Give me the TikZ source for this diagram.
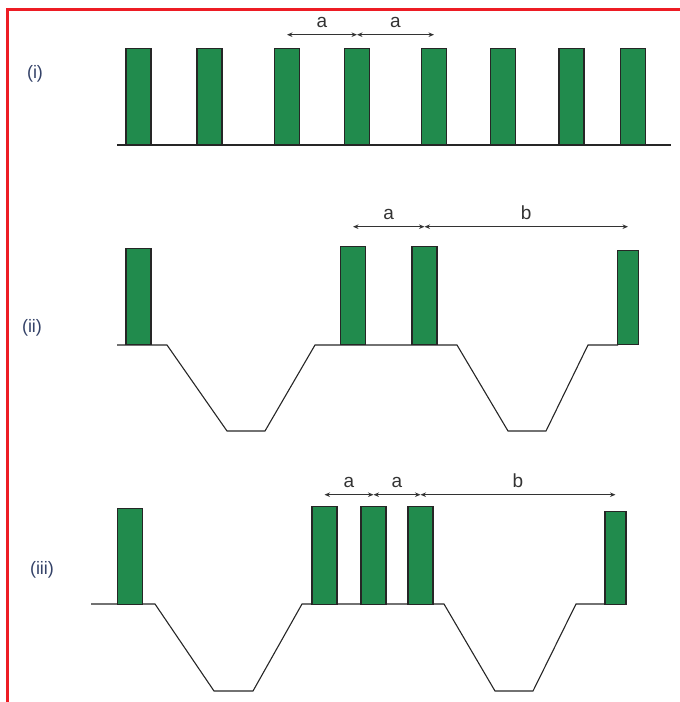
\documentclass[tikz,border=0pt]{standalone}
\usepackage{fontspec}
\setmainfont{Liberation Sans}
\usetikzlibrary{positioning,arrows.meta}
\definecolor{barfill}{RGB}{33,139,77}
\definecolor{frame}{RGB}{237,28,36}
\definecolor{rowlbl}{RGB}{52,66,104}
\tikzset{
    bar/.style={draw=black!85, line width=1.3pt, fill=barfill, anchor=south, inner sep=0pt, minimum width=25pt},
    ground/.style={draw=black!85, line width=1.1pt},
    span/.style={draw=black!80, line width=0.9pt, {Stealth[length=5.5pt,width=4.5pt]}-{Stealth[length=5.5pt,width=4.5pt]}},
    spanlbl/.style={text=black!80, font=\fontsize{19}{21}\selectfont},
    rowname/.style={text=rowlbl, font=\fontsize{18}{20}\selectfont}
}

\begin{document}
\begin{tikzpicture}[x=1pt, y=-1pt]
            \useasboundingbox (0,0) rectangle (680,702);
            \draw[frame, line width=3pt] (7,702) -- (7,9) -- (680,9);

            \node[rowname] (ri) at (35,74) {(i)};
            \draw[ground] (117,145) -- (671,145);
            \foreach \n/\x in {1/138.5, 2/209.5, 3/287, 4/357, 5/434, 6/503, 7/571.5, 8/633}
                \node[bar, minimum height=96pt] (i\n) at (\x,145) {};
            \path (i3.north) ++(0,-13) coordinate (ti3);
            \path (i4.north) ++(0,-13) coordinate (ti4);
            \path (i5.north) ++(0,-13) coordinate (ti5);
            \draw[span] (ti3) -- node[spanlbl, above=3pt] (ia1) {a} (ti4);
            \draw[span] (ti4) -- node[spanlbl, above=3pt] (ia2) {a} (ti5);

            \node[rowname] (rii) at (32,328) {(ii)};
            \draw[ground] (117,345) -- (167,345) -- (227,431) -- (265,431) -- (315,345)
                -- (457,345) -- (508,431) -- (546,431) -- (588,345) -- (618,345);
            \node[bar, minimum height=96pt] (ii1) at (138.5,345) {};
            \node[bar, minimum height=98pt] (ii2) at (353,345) {};
            \node[bar, minimum height=98pt] (ii3) at (424.5,345) {};
            \node[bar, minimum height=94pt, minimum width=21pt] (ii4) at (628,345) {};
            \path (ii2.north) ++(0,-19) coordinate (tii2);
            \path (ii3.north) ++(0,-19) coordinate (tii3);
            \path (ii4.center |- tii3) coordinate (tii4);
            \draw[span] (tii2) -- node[spanlbl, above=3pt] (iia) {a} (tii3);
            \draw[span] (tii3) -- node[spanlbl, above=3pt] (iib) {b} (tii4);

            \node[rowname] (riii) at (42,570) {(iii)};
            \draw[ground] (91,604) -- (155,604) -- (214,691) -- (253,691) -- (302,604)
                -- (444,604) -- (495,691) -- (533,691) -- (576,604) -- (605,604);
            \node[bar, minimum height=96pt] (iii1) at (130,605) {};
            \node[bar, minimum height=98pt] (iii2) at (324.5,605) {};
            \node[bar, minimum height=98pt] (iii3) at (373.5,605) {};
            \node[bar, minimum height=98pt] (iii4) at (420.5,605) {};
            \node[bar, minimum height=93pt, minimum width=21pt] (iii5) at (615.5,605) {};
            \path (iii2.north) ++(0,-11) coordinate (tiii2);
            \path (iii3.north) ++(0,-11) coordinate (tiii3);
            \path (iii4.north) ++(0,-11) coordinate (tiii4);
            \path (iii5.center |- tiii4) coordinate (tiii5);
            \draw[span] (tiii2) -- node[spanlbl, above=3pt] (iiia1) {a} (tiii3);
            \draw[span] (tiii3) -- node[spanlbl, above=3pt] (iiia2) {a} (tiii4);
            \draw[span] (tiii4) -- node[spanlbl, above=3pt] (iiib) {b} (tiii5);
        \end{tikzpicture}
\end{document}
